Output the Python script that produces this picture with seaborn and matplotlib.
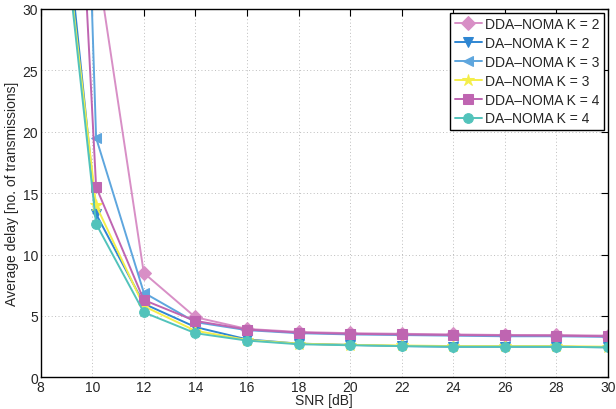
import numpy as np
import pandas as pd
import matplotlib
matplotlib.use('Agg')
import matplotlib.pyplot as plt
import seaborn as sns

# SNR points (first point sits a bit right of the 10 dB grid line in the original)
snr = [8, 10.15, 12, 14, 16, 18, 20, 22, 24, 26, 28, 30]

dda_k2 = [150, 34.3, 8.5, 4.9, 3.95, 3.7, 3.6, 3.55, 3.5, 3.45, 3.45, 3.4]
da_k2 = [57, 13.3, 6.0, 4.1, 3.1, 2.75, 2.65, 2.55, 2.5, 2.5, 2.5, 2.45]
dda_k3 = [160, 19.5, 6.9, 4.5, 3.85, 3.6, 3.5, 3.45, 3.4, 3.35, 3.35, 3.3]
da_k3 = [53, 14.0, 5.8, 3.8, 3.05, 2.75, 2.65, 2.6, 2.55, 2.55, 2.55, 2.5]
dda_k4 = [103, 15.5, 6.3, 4.6, 3.9, 3.65, 3.55, 3.5, 3.45, 3.42, 3.4, 3.35]
da_k4 = [54, 12.5, 5.3, 3.6, 3.0, 2.7, 2.62, 2.55, 2.5, 2.5, 2.5, 2.45]

series = [
    ("DDA–NOMA K = 2", dda_k2, "#d88fc6", "D"),
    ("DA–NOMA K = 2", da_k2, "#2f86d2", "v"),
    ("DDA–NOMA K = 3", dda_k3, "#5ea6de", "<"),
    ("DA–NOMA K = 3", da_k3, "#f4ee4a", "*"),
    ("DDA–NOMA K = 4", dda_k4, "#bf65b1", "s"),
    ("DA–NOMA K = 4", da_k4, "#52c3bb", "o"),
]

sns.set_style("white")
plt.rcParams['font.family'] = ['Liberation Sans', 'DejaVu Sans']
plt.rcParams['font.size'] = 10

fig = plt.figure(figsize=(6.16, 4.10), dpi=100)
ax = fig.add_axes([0.066, 0.077, 0.921, 0.899])

for name, vals, col, mk in series:
    df = pd.DataFrame({"snr": snr, "delay": vals})
    sns.lineplot(data=df, x="snr", y="delay", ax=ax, color=col, marker=mk,
                 markersize=9 if mk == "*" else 7, markeredgecolor=col,
                 linewidth=1.4, label=name)

ax.set_xlim(8, 30)
ax.set_ylim(0, 30)
ax.set_xticks(np.arange(8, 31, 2))
ax.set_yticks(np.arange(0, 31, 5))
ax.set_xlabel("SNR [dB]", fontsize=10, labelpad=-1)
ax.set_ylabel("Average delay [no. of transmissions]", fontsize=10, labelpad=2)
ax.grid(True, linestyle=(0, (1, 2.5)), color="#bdbdbd", linewidth=0.7)
ax.tick_params(direction="in", length=5, top=True, right=True, labelsize=10,
               color="black", pad=2)
for sp in ax.spines.values():
    sp.set_color("black")
    sp.set_linewidth(1.0)

leg = ax.legend(loc="upper right", fontsize=10, frameon=True, fancybox=False,
                handlelength=2.0, handletextpad=0.2, borderpad=0.3,
                labelspacing=0.35, borderaxespad=0.3, edgecolor="black")
leg.get_frame().set_linewidth(1.0)
leg.get_frame().set_alpha(1.0)

fig.savefig("out.png", dpi=100)
